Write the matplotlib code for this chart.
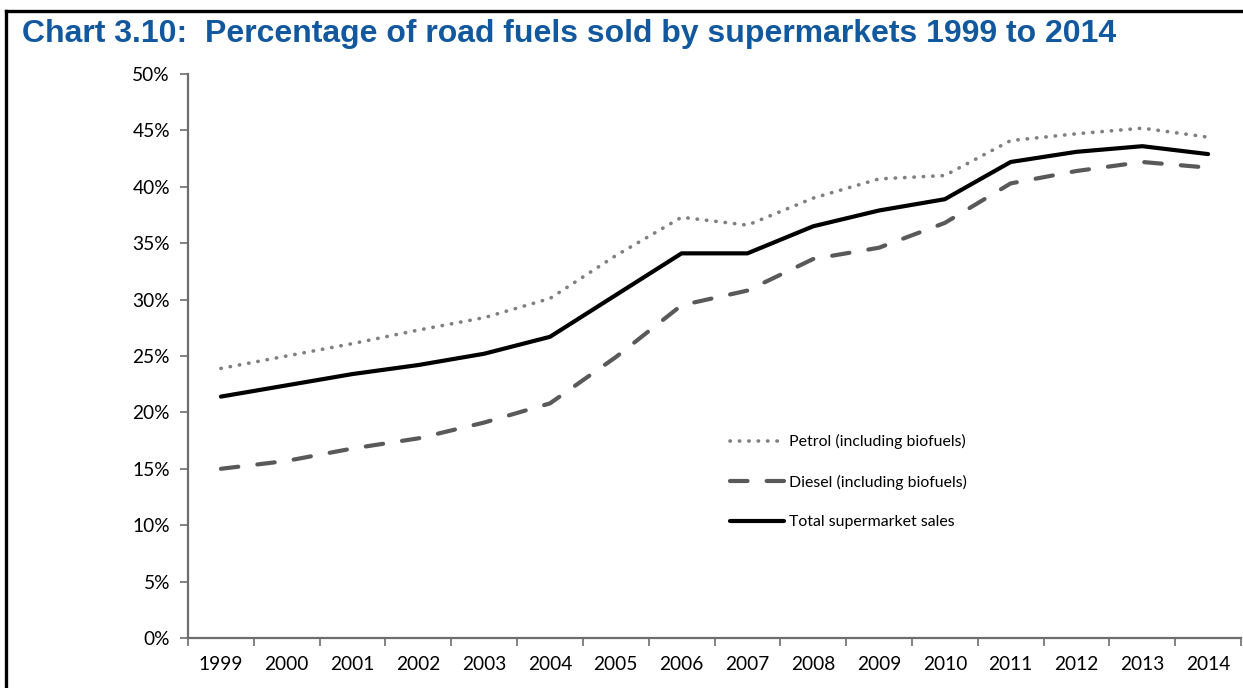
import matplotlib.pyplot as plt
from matplotlib.lines import Line2D
from matplotlib.ticker import FuncFormatter

# --- data (% of road fuel sold by supermarkets) ---
years = ['1999', '2000', '2001', '2002', '2003', '2004', '2005', '2006',
         '2007', '2008', '2009', '2010', '2011', '2012', '2013', '2014']
petrol = [23.9, 25.0, 26.1, 27.3, 28.4, 30.1, 33.9, 37.3,
          36.6, 39.0, 40.7, 41.0, 44.1, 44.7, 45.2, 44.4]
diesel = [15.0, 15.7, 16.8, 17.7, 19.1, 20.8, 24.9, 29.5,
          30.8, 33.6, 34.6, 36.8, 40.3, 41.4, 42.2, 41.7]
total = [21.4, 22.4, 23.4, 24.2, 25.2, 26.7, 30.4, 34.1,
         34.1, 36.5, 37.9, 38.9, 42.2, 43.1, 43.6, 42.9]
y_ticks = [0, 5, 10, 15, 20, 25, 30, 35, 40, 45, 50]

tick_font = 'Lato'
axis_grey = '#6d6d6d'

fig = plt.figure(figsize=(12.43, 6.88), dpi=100)
ax = fig.add_axes([188 / 1243, 50 / 688, (1241 - 188) / 1243, (638 - 74) / 688])

x = list(range(len(years)))
ax.plot(x, petrol, color='#7f7f7f', linewidth=2.6, linestyle=(0, (0.1, 2.5)),
        dash_capstyle='round', label='Petrol (including biofuels)')
ax.plot(x, diesel, color='#595959', linewidth=3.0, linestyle=(0, (4.2, 4.6)),
        dash_capstyle='round', label='Diesel (including biofuels)')
ax.plot(x, total, color='black', linewidth=3.0, solid_capstyle='round',
        label='Total supermarket sales')

ax.set_xlim(-0.5, len(years) - 0.5)
ax.set_ylim(0, 50)
ax.set_yticks(y_ticks)
ax.yaxis.set_major_formatter(FuncFormatter(lambda v, p: f'{int(v)}%'))

# category axis: ticks sit on the boundaries, labels in the middle
ax.set_xticks([i - 0.5 for i in range(len(years) + 1)])
ax.set_xticklabels([])
ax.set_xticks(x, minor=True)
ax.set_xticklabels(years, minor=True)
ax.tick_params(axis='x', which='minor', length=0, pad=13)
ax.tick_params(axis='x', which='major', length=6, width=1.2, color=axis_grey)
ax.tick_params(axis='y', length=6, width=1.2, color=axis_grey, pad=7)

for lab in ax.get_xticklabels(minor=True) + ax.get_yticklabels():
    lab.set_fontfamily(tick_font)
    lab.set_fontsize(13.8)

for side in ['top', 'right']:
    ax.spines[side].set_visible(False)
for side in ['left', 'bottom']:
    ax.spines[side].set_color(axis_grey)
    ax.spines[side].set_linewidth(1.6)

leg = ax.legend(loc='upper left', bbox_to_anchor=(716 / 1243, 1 - 420 / 688),
                bbox_transform=fig.transFigure, frameon=False,
                prop={'family': tick_font, 'size': 11.4},
                handlelength=3.4, handletextpad=0.3, labelspacing=1.6)

# title and frame around the chart
fig.text(22 / 1243, 1 - 42 / 688,
         'Chart 3.10:  Percentage of road fuels sold by supermarkets 1999 to 2014',
         family='Liberation Sans', weight='bold', fontsize=23, color='#11589e')
fig.add_artist(Line2D([6 / 1243, 1], [1 - 11 / 688, 1 - 11 / 688],
                      color='black', linewidth=2.4, transform=fig.transFigure))
fig.add_artist(Line2D([6 / 1243, 6 / 1243], [0, 1 - 11 / 688],
                      color='black', linewidth=2.4, transform=fig.transFigure))

fig.savefig('out.png', dpi=100)
